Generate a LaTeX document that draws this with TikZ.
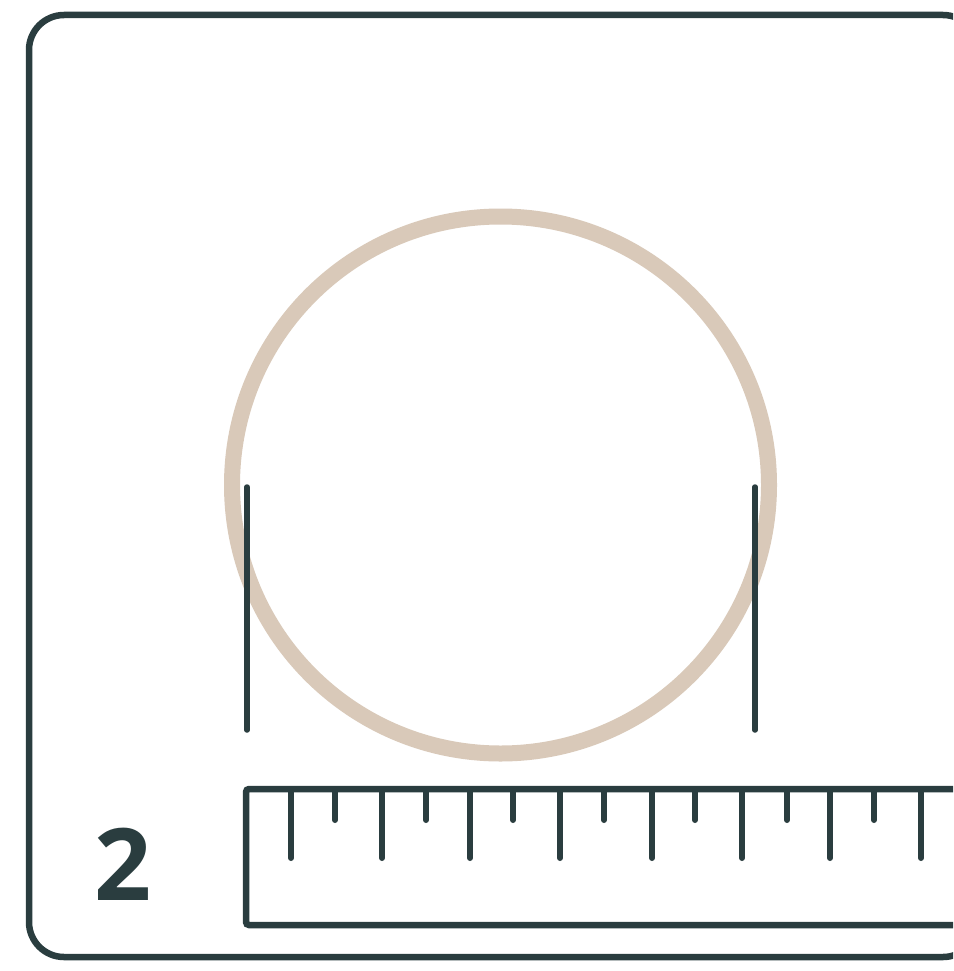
\documentclass[tikz,border=0pt]{standalone}
\usepackage{fontspec}
\newfontfamily\numfont{Open Sans}
\definecolor{ink}{HTML}{2A3D3F}
\definecolor{ring}{HTML}{D9C9B9}
\begin{document}
\begin{tikzpicture}[x=1pt,y=-1pt,
  inkline/.style={draw=ink,line width=6pt,line cap=round},
  markline/.style={draw=ink,line width=5.5pt,line cap=round},
  frame/.style={draw=ink,line width=6.5pt,rounded corners=35pt},
  ringline/.style={draw=ring,line width=16pt}]
\useasboundingbox (0,0) rectangle (953,971);
\clip (0,0) rectangle (953,971);
\fill[white] (0,0) rectangle (953,971);
% outer frame
\draw[frame] (29,15) rectangle (978,957);
% circle
\draw[ringline] (500.5,485) circle[radius=268.5];
% vertical markers
\draw[markline] (247,487) -- (247,730);
\draw[markline] (755,487) -- (755,730);
% ruler
\draw[draw=ink,line width=6.5pt,rounded corners=3pt] (1010,789) -- (246,789) -- (246,925) -- (1010,925);
\foreach \x in {291,382,470,560,652,742,830,921} {
  \draw[inkline] (\x,792) -- (\x,858);
}
\foreach \x in {335,426,513,604,695,787,874} {
  \draw[inkline] (\x,792) -- (\x,820);
}
% number
\node[text=ink,font=\numfont\bfseries\fontsize{100}{100}\selectfont,inner sep=0pt] (num) at (123,864) {2};
\end{tikzpicture}
\end{document}
